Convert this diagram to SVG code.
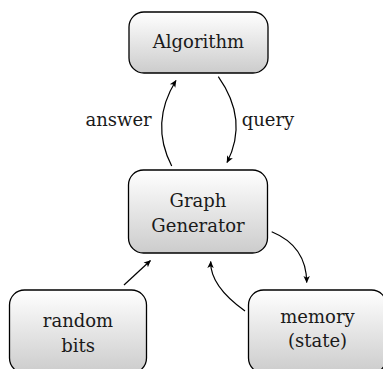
<svg xmlns="http://www.w3.org/2000/svg" width="383" height="369" viewBox="0 0 383 369">
<defs>
<linearGradient id="g" x1="0" y1="0" x2="0" y2="1">
<stop offset="0" stop-color="#ffffff"/>
<stop offset="1" stop-color="#cccccc"/>
</linearGradient>
<marker id="ah" viewBox="-8 -4 10 8" refX="0" refY="0" markerWidth="10" markerHeight="8" markerUnits="userSpaceOnUse" orient="auto">
<path d="M0.5,0 L-6.5,-3.2 L-4.8,0 L-6.5,3.2 Z" fill="#000"/>
</marker>
</defs>
<style>
.box{fill:url(#g);stroke:#000;stroke-width:1.3}
.t{font-family:'DejaVu Serif','Liberation Serif','Times New Roman',serif;font-size:18px;fill:#1a1a1a}
.c{text-anchor:middle}
.e{fill:none;stroke:#000;stroke-width:1.2;marker-end:url(#ah)}
</style>
<rect width="383" height="369" fill="#fff"/>
<g id="algorithm">
<rect class="box" x="129" y="12" width="139" height="61" rx="15"/>
<text class="t c" x="198.5" y="48">Algorithm</text>
</g>
<g id="graph-generator">
<rect class="box" x="128.5" y="170" width="139" height="83" rx="15"/>
<text class="t c" x="198" y="207">Graph</text>
<text class="t c" x="198" y="232">Generator</text>
</g>
<g id="random-bits">
<rect class="box" x="9.5" y="290" width="137" height="83" rx="15"/>
<text class="t c" x="78" y="327">random</text>
<text class="t c" x="78" y="352">bits</text>
</g>
<g id="memory">
<rect class="box" x="248.5" y="290" width="138" height="83" rx="15"/>
<text class="t c" x="317.5" y="322.5">memory</text>
<text class="t c" x="317.5" y="346.5">(state)</text>
</g>
<g id="connectors">
<path class="e" d="M171.7,166 Q149.6,123 176,80.5"/>
<path class="e" d="M218.3,76.7 Q248.9,120 227,162.5"/>
<path class="e" d="M271.7,231.7 Q306.5,246 306.7,282.5"/>
<path class="e" d="M245,311 Q210,286 210.7,261.5"/>
<path class="e" d="M124,285 L150.5,260.5"/>
<text class="t" x="151.7" y="126" text-anchor="end">answer</text>
<text class="t" x="241.7" y="126">query</text>
</g>
</svg>
